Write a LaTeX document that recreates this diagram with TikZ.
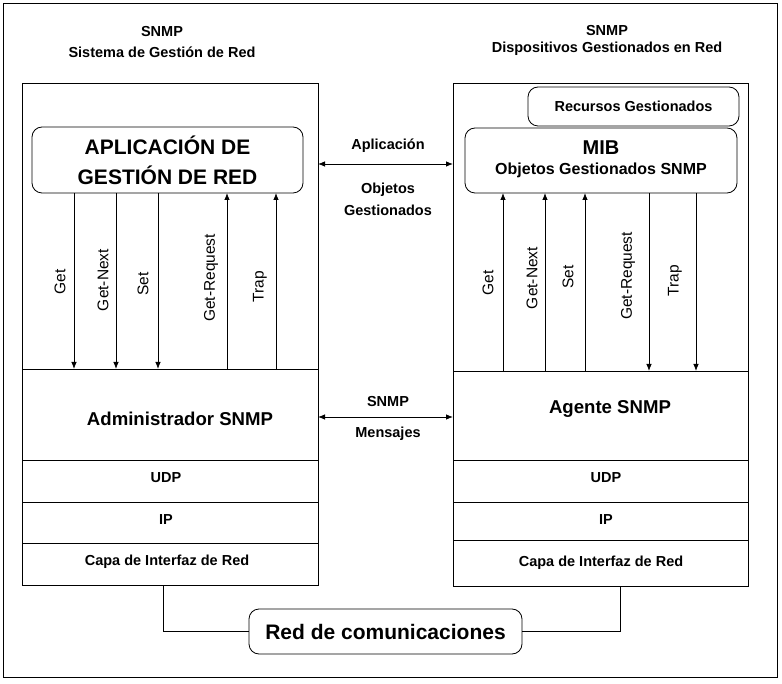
\documentclass[tikz,border=0pt]{standalone}
\usepackage{fontspec}
\setmainfont{Liberation Sans}
\usetikzlibrary{arrows.meta}
\begin{document}
\begin{tikzpicture}[x=1pt,y=-1pt, line width=0.8pt,
  box/.style={draw, rectangle, anchor=north west, inner sep=0pt, outer sep=0pt, minimum width=#1},
  box/.default=296pt,
  rbox/.style={draw, rounded corners=10pt, inner sep=0pt, outer sep=0pt, align=center},
  arr/.style={-{Latex[length=7pt,width=5.5pt]}},
  darr/.style={{Latex[length=7pt,width=5.5pt]}-{Latex[length=7pt,width=5.5pt]}},
  lbl/.style={font=\fontsize{14.5}{17}\selectfont\bfseries, inner sep=0pt},
  vlbl/.style={font=\fontsize{15.5}{18}\selectfont, rotate=90, inner sep=0pt},
  big/.style={font=\fontsize{18.6}{21}\selectfont\bfseries, inner sep=0pt},
]
\useasboundingbox (0,0) rectangle (782,684);
\draw (3,3) rectangle (777,677);

% titles
\node[lbl] (tL1) at (162,32) {SNMP};
\node[lbl] (tL2) at (162,52) {Sistema de Gestión de Red};
\node[lbl] (tR1) at (607,31) {SNMP};
\node[lbl] (tR2) at (607,49) {Dispositivos Gestionados en Red};

% left stack
\node[box, minimum height=286pt] (topL) at (22,83) {};
\node[box, minimum height=91pt] (admL) at (topL.south west) {};
\node[box, minimum height=42pt] (udpL) at (admL.south west) {};
\node[box, minimum height=41pt] (ipL) at (udpL.south west) {};
\node[box, minimum height=42pt] (capaL) at (ipL.south west) {};

% right stack
\node[box=295pt, minimum height=288pt] (topR) at (453,83) {};
\node[box=295pt, minimum height=89pt] (agtR) at (topR.south west) {};
\node[box=295pt, minimum height=42pt] (udpR) at (agtR.south west) {};
\node[box=295pt, minimum height=38pt] (ipR) at (udpR.south west) {};
\node[box=295pt, minimum height=46pt] (capaR) at (ipR.south west) {};

% layer texts
\node[big] (tadm) at (180,419) {Administrador SNMP};
\node[lbl] (tudpL) at (166,478) {UDP};
\node[lbl] (tipL) at (166,520) {IP};
\node[lbl] (tcapaL) at (167,562) {Capa de Interfaz de Red};
\node[big] (tagt) at (610,409) {Agente SNMP};
\node[lbl] (tudpR) at (606,478) {UDP};
\node[lbl] (tipR) at (606,520) {IP};
\node[lbl] (tcapaR) at (601,563) {Capa de Interfaz de Red};

% application box
\node[rbox, minimum width=271pt, minimum height=66pt,
      font=\fontsize{21}{30}\selectfont\bfseries] (app) at (167.5,160) {APLICACIÓN DE\\GESTIÓN DE RED};

% right boxes
\node[rbox, minimum width=211pt, minimum height=39pt, font=\fontsize{14.5}{17}\selectfont\bfseries] (rec) at (633.5,106.5) {Recursos Gestionados};
\node[rbox, minimum width=272pt, minimum height=65pt] (mib) at (601,160.5) {};
\node[inner sep=0pt, font=\fontsize{20}{22}\selectfont\bfseries] (tmib) at (601,148) {MIB};
\node[inner sep=0pt, font=\fontsize{16}{19}\selectfont\bfseries] (tobj) at (601,170) {Objetos Gestionados SNMP};

% left arrows
\coordinate (aL1) at (74,0);
\coordinate (aL2) at (116,0);
\coordinate (aL3) at (158,0);
\coordinate (aL4) at (227,0);
\coordinate (aL5) at (276,0);
\draw[arr] (app.south -| aL1) -- (admL.north -| aL1);
\draw[arr] (app.south -| aL2) -- (admL.north -| aL2);
\draw[arr] (app.south -| aL3) -- (admL.north -| aL3);
\draw[arr] (admL.north -| aL4) -- (app.south -| aL4);
\draw[arr] (admL.north -| aL5) -- (app.south -| aL5);
\node[vlbl] (gL1) at (60,282) {Get};
\node[vlbl] (gL2) at (103,280) {Get-Next};
\node[vlbl] (gL3) at (143,284) {Set};
\node[vlbl] (gL4) at (211,278) {Get-Request};
\node[vlbl] (gL5) at (260,287) {Trap};

% right arrows
\coordinate (aR1) at (503,0);
\coordinate (aR2) at (545,0);
\coordinate (aR3) at (585,0);
\coordinate (aR4) at (649,0);
\coordinate (aR5) at (696,0);
\draw[arr] (agtR.north -| aR1) -- (mib.south -| aR1);
\draw[arr] (agtR.north -| aR2) -- (mib.south -| aR2);
\draw[arr] (agtR.north -| aR3) -- (mib.south -| aR3);
\draw[arr] (mib.south -| aR4) -- (agtR.north -| aR4);
\draw[arr] (mib.south -| aR5) -- (agtR.north -| aR5);
\node[vlbl] (gR1) at (488,283) {Get};
\node[vlbl] (gR2) at (532,278) {Get-Next};
\node[vlbl] (gR3) at (568,277) {Set};
\node[vlbl] (gR4) at (628,276) {Get-Request};
\node[vlbl] (gR5) at (675,281) {Trap};

% middle arrows
\coordinate (m1) at (0,164);
\coordinate (m2) at (0,417);
\draw[darr] (topL.east |- m1) -- (topR.west |- m1);
\draw[darr] (admL.east |- m2) -- (agtR.west |- m2);
\node[lbl] (ma1) at (388,146) {Aplicación};
\node[lbl] (ma2) at (388,190) {Objetos};
\node[lbl] (ma3) at (388,210) {Gestionados};
\node[lbl] (ms1) at (388,402) {SNMP};
\node[lbl] (ms2) at (388,434) {Mensajes};

% network
\node[rbox, minimum width=273pt, minimum height=45pt, font=\fontsize{21}{24}\selectfont\bfseries] (red) at (385.5,631.5) {Red de comunicaciones};
\coordinate (cL) at (163,0);
\coordinate (cR) at (620,0);
\draw (capaL.south -| cL) |- (red.west);
\draw (capaR.south -| cR) |- (red.east);
\end{tikzpicture}
\end{document}
